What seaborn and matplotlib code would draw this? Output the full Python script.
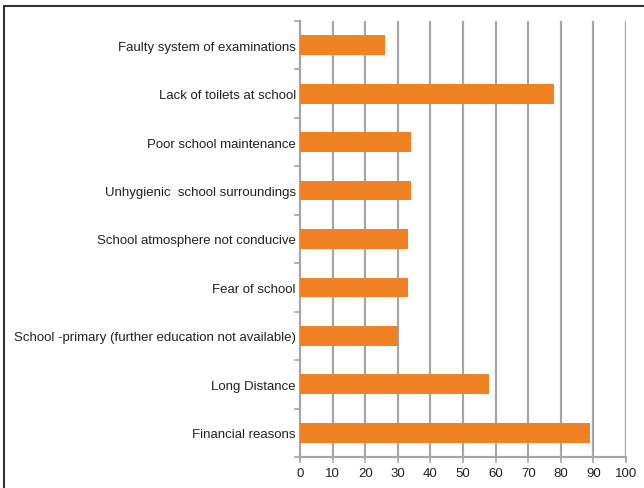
import matplotlib
matplotlib.use("Agg")
import matplotlib.pyplot as plt
import seaborn as sns
import pandas as pd
import numpy as np
from matplotlib.patches import Rectangle

categories = [
    "Faulty system of examinations",
    "Lack of toilets at school",
    "Poor school maintenance",
    "Unhygienic  school surroundings",
    "School atmosphere not conducive",
    "Fear of school",
    "School -primary (further education not available)",
    "Long Distance",
    "Financial reasons",
]
values = [26, 78, 34, 34, 33, 33, 30, 58, 89]
x_ticks = list(range(0, 101, 10))

df = pd.DataFrame({"reason": categories, "value": values})

sns.set_style("white")
plt.rcParams["font.family"] = ["Liberation Sans", "DejaVu Sans"]

fig = plt.figure(figsize=(6.44, 4.89), dpi=100)
ax = fig.add_axes([300 / 644, 1 - 458 / 489, 326 / 644, 436 / 489])

sns.barplot(data=df, x="value", y="reason", color="#F08224", width=0.41,
            saturation=1, linewidth=0, ax=ax, zorder=3)

grid_color = "#A6A6A6"
ax.set_xlim(0, 100)
ax.set_ylim(len(categories) - 0.5, -0.5)
ax.set_xticks(x_ticks)
ax.set_xticklabels([str(t) for t in x_ticks], fontsize=9.5, color="#222222")
for t in x_ticks[1:]:
    ax.axvline(t, color=grid_color, lw=1.6, zorder=1)

# category labels sit between boundary tick marks
ax.set_yticks(np.arange(len(categories)))
ax.set_yticklabels(categories, fontsize=9.5, color="#222222")
ax.tick_params(axis="y", which="major", left=True, length=0, pad=3)
ax.set_yticks(np.arange(len(categories) + 1) - 0.5, minor=True)
ax.tick_params(axis="y", which="minor", left=True, length=4, width=1.2,
               color=grid_color)
ax.tick_params(axis="x", bottom=True, length=4, width=1.2, color=grid_color,
               pad=3)

ax.set_xlabel("")
ax.set_ylabel("")
for side in ["top", "right"]:
    ax.spines[side].set_visible(False)
for side in ["left", "bottom"]:
    ax.spines[side].set_color(grid_color)
    ax.spines[side].set_linewidth(1.6)

# outer frame of the figure
fig.patches.append(Rectangle((4 / 644, -0.1), 1.2, 1 - 7 / 489 + 0.1,
                             transform=fig.transFigure, fill=False,
                             edgecolor="#333333", lw=1.5))

fig.savefig("out.png", dpi=100)
